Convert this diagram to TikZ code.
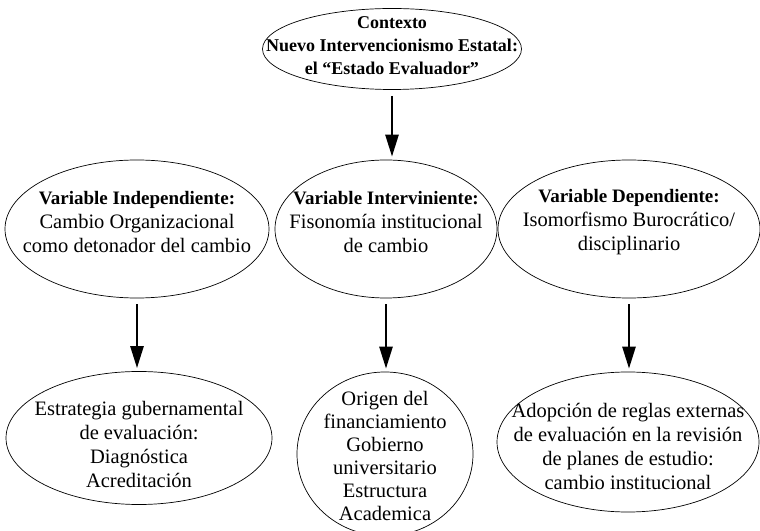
\documentclass[tikz,border=0pt]{standalone}
\usepackage{fontspec}
\setmainfont{Liberation Serif}
\usetikzlibrary{arrows, arrows.meta}
\usetikzlibrary{shapes.geometric}
\usetikzlibrary{positioning}
\usetikzlibrary{calc}
\newcommand{\negr}[1]{{\fontsize{19}{24}\selectfont\bfseries #1}}

\begin{document}
\begin{tikzpicture}[x=1pt, y=1pt,
					elip/.style={draw, ellipse, line width=0.7pt, inner sep=0pt},
					txt/.style={align=center, font=\fontsize{20.5}{24}\selectfont},
					flecha/.style={line width=2.6pt, -{Triangle[length=22pt, width=13pt]}, shorten <=6pt, shorten >=3pt}]
					\useasboundingbox (0,0) rectangle (760,530);
					% contexto
					\node[elip, minimum width=259pt, minimum height=81pt] (ctx) at (392,481) {};
					\node[txt, font=\fontsize{18}{23}\selectfont\bfseries] (ctxt) at (392,484) {Contexto\\Nuevo Intervencionismo Estatal:\\el “Estado Evaluador”};
					% variables
					\node[elip, minimum width=264pt, minimum height=138pt] (indep) at (137,301) {};
					\node[txt] (indept) at (137,308) {\negr{Variable Independiente:}\\Cambio Organizacional\\como detonador del cambio};
					\node[elip, minimum width=222pt, minimum height=138pt] (interv) at (386,301) {};
					\node[txt] (intervt) at (386,308) {\negr{Variable Interviniente:}\\Fisonomía institucional\\de cambio};
					\node[elip, minimum width=262pt, minimum height=138pt] (dep) at (629,301) {};
					\node[txt] (dept) at (629,308) {\negr{Variable Dependiente:}\\Isomorfismo Burocrático/\\disciplinario};
					% resultados
					\node[elip, minimum width=266pt, minimum height=133pt] (estr) at (139,92) {};
					\node[txt] (estrt) at (139,86) {Estrategia gubernamental\\de evaluación:\\Diagnóstica\\Acreditación};
					\node[elip, minimum width=176pt, minimum height=164pt] (orig) at (385,76) {};
					\node[txt, font=\fontsize{20.5}{23}\selectfont] (origt) at (385,74) {Origen del\\financiamiento\\Gobierno\\universitario\\Estructura\\Academica};
					\node[elip, minimum width=262pt, minimum height=140pt] (adop) at (628,88) {};
					\node[txt] (adopt) at (628,84) {Adopción de reglas externas\\de evaluación en la revisión\\de planes de estudio:\\cambio institucional};
					% flechas
					\draw[flecha] (ctx.south) -- (ctx.south |- interv.north);
					\draw[flecha] (indep.south) -- (indep.south |- estr.north);
					\draw[flecha] (interv.south) -- (interv.south |- orig.north);
					\draw[flecha] (dep.south) -- (dep.south |- adop.north);
				\end{tikzpicture}
\end{document}
